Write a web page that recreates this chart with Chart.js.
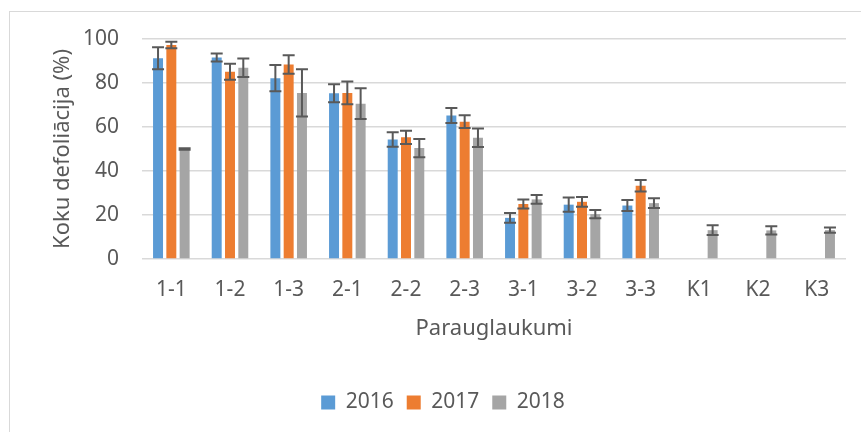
<!DOCTYPE html>
<html>
<head>
<meta charset="utf-8">
<script src="https://cdn.jsdelivr.net/npm/chart.js@4.4.1/dist/chart.umd.min.js"></script>
<style>
  html, body { margin: 0; padding: 0; background: #ffffff; }
  #wrap { position: relative; width: 861px; height: 432px; }
  #frame { position: absolute; left: 9px; top: 11px; width: 860px; height: 430px;
           border-left: 1.5px solid #d9d9d9; border-top: 1.5px solid #d9d9d9; box-sizing: border-box; }
  canvas { position: absolute; left: 0; top: 0; }
</style>
</head>
<body>
<div id="wrap">
  <div id="frame"></div>
  <canvas id="c" width="861" height="432"></canvas>
</div>
<script>
const categories = ['1-1', '1-2', '1-3', '2-1', '2-2', '2-3', '3-1', '3-2', '3-3', 'K1', 'K2', 'K3'];
const values2016 = [91.2, 91.6, 82.2, 75.3, 54.3, 65.2, 18.7, 24.7, 24.3, null, null, null];
const errors2016 = [5.0, 1.8, 6.0, 4.1, 3.3, 3.4, 2.2, 3.2, 2.5, null, null, null];
const values2017 = [97.3, 85.1, 88.4, 75.5, 55.3, 62.4, 25.0, 26.0, 33.3, null, null, null];
const errors2017 = [1.5, 3.6, 4.2, 5.2, 3.0, 2.9, 2.0, 2.2, 2.6, null, null, null];
const values2018 = [50.0, 86.9, 75.5, 70.6, 50.4, 55.1, 27.1, 20.4, 25.4, 13.1, 13.0, 13.1];
const errors2018 = [0.3, 4.2, 10.7, 7.0, 4.1, 4.2, 2.0, 1.9, 2.2, 2.2, 1.9, 1.2];
const yTicks = [0, 20, 40, 60, 80, 100];

const textColor = '#595959';
const fontFamily = '"Noto Sans", "Open Sans", sans-serif';

const errorBarPlugin = {
  id: 'errorBars',
  afterDatasetsDraw(chart) {
    const ctx = chart.ctx;
    const yScale = chart.scales.y;
    ctx.save();
    ctx.strokeStyle = '#595959';
    ctx.lineWidth = 2;
    chart.data.datasets.forEach((ds, di) => {
      const meta = chart.getDatasetMeta(di);
      meta.data.forEach((bar, i) => {
        const v = ds.data[i];
        const e = ds.errors[i];
        if (v == null || e == null) return;
        const x = bar.x;
        const yTop = yScale.getPixelForValue(v + e);
        const yBot = yScale.getPixelForValue(v - e);
        const half = 6;
        ctx.beginPath();
        ctx.moveTo(x, yTop); ctx.lineTo(x, yBot);
        ctx.moveTo(x - half, yTop); ctx.lineTo(x + half, yTop);
        ctx.moveTo(x - half, yBot); ctx.lineTo(x + half, yBot);
        ctx.stroke();
      });
    });
    ctx.restore();
  }
};

new Chart(document.getElementById('c'), {
  type: 'bar',
  data: {
    labels: categories,
    datasets: [
      { label: '2016', data: values2016, errors: errors2016, backgroundColor: '#5B9BD5' },
      { label: '2017', data: values2017, errors: errors2017, backgroundColor: '#ED7D31' },
      { label: '2018', data: values2018, errors: errors2018, backgroundColor: '#A5A5A5' }
    ]
  },
  options: {
    responsive: false,
    animation: false,
    devicePixelRatio: 1,
    categoryPercentage: 0.68,
    barPercentage: 0.75,
    layout: { padding: { left: 40, right: 15, top: 39, bottom: 9 } },
    plugins: {
      tooltip: { enabled: false },
      legend: {
        position: 'bottom',
        labels: {
          boxWidth: 14, boxHeight: 14, padding: 13,
          color: textColor,
          font: { family: fontFamily, size: 21 }
        }
      }
    },
    scales: {
      x: {
        grid: { display: false, drawTicks: false },
        border: { display: false },
        ticks: { color: textColor, font: { family: fontFamily, size: 21 }, padding: 18, maxRotation: 0, autoSkip: false },
        title: { display: true, text: 'Parauglaukumi', color: textColor,
                 font: { family: fontFamily, size: 22 }, padding: { top: 4, bottom: 37 } },
        afterFit(scale) { scale.height = 120; }
      },
      y: {
        min: 0, max: 100,
        afterBuildTicks(scale) { scale.ticks = yTicks.map(v => ({ value: v })); },
        grid: { color: '#d9d9d9', lineWidth: 1.5, drawTicks: false },
        border: { display: false },
        ticks: { color: textColor, font: { family: fontFamily, size: 21 }, padding: 23 },
        title: { display: true, text: 'Koku defoliācija (%)', color: textColor,
                 font: { family: fontFamily, size: 22 }, padding: { top: 10, bottom: 4 } },
        afterFit(scale) { scale.width = 102; }
      }
    }
  },
  plugins: [errorBarPlugin]
});
</script>
</body>
</html>
